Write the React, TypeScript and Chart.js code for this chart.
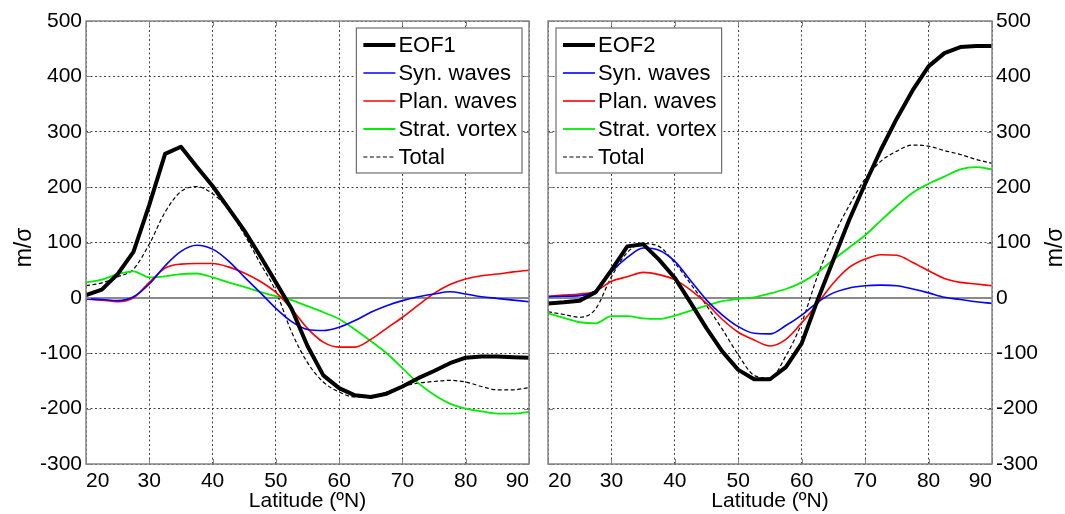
import React, { useEffect, useRef } from 'react';
import { Chart, registerables } from 'chart.js';

Chart.register(...registerables);

// ---------- data ----------
const latitudes = [20, 22.5, 25, 27.5, 30, 32.5, 35, 37.5, 40, 42.5, 45, 47.5, 50, 52.5, 55, 57.5, 60, 62.5, 65, 67.5, 70, 72.5, 75, 77.5, 80, 82.5, 85, 87.5, 90];

// Panel 1 (EOF1)
const eof1 = [5, 15, 43, 83, 168, 260, 273, 237, 202, 162, 122, 76, 28, -20, -87, -140, -163, -176, -179, -173, -160, -145, -132, -118, -108, -106, -106, -107, -108];
const syn1 = [-2, -3, -5, 2, 25, 58, 84, 95, 88, 67, 38, 10, -19, -43, -57, -59, -53, -41, -26, -14, -5, 2, 7, 11, 7, 2, -1, -4, -7];
const plan1 = [-2, -4, -7, 0, 28, 54, 61, 62, 62, 56, 45, 30, 10, -20, -55, -80, -89, -89, -75, -55, -35, -13, 8, 24, 34, 40, 43, 47, 50];
const strat1 = [28, 33, 43, 48, 37, 39, 43, 44, 37, 28, 20, 11, 3, -4, -15, -26, -38, -57, -78, -100, -127, -154, -175, -191, -200, -205, -209, -209, -206];
const total1 = [22, 27, 38, 52, 97, 155, 192, 201, 188, 160, 115, 63, 12, -62, -117, -152, -170, -179, -178, -170, -160, -154, -151, -149, -152, -160, -166, -166, -162];

// Panel 2 (EOF2)
const eof2 = [-10, -8, -5, 10, 50, 93, 97, 69, 36, -9, -55, -97, -130, -147, -147, -125, -82, -4, 69, 141, 206, 268, 324, 375, 418, 442, 453, 455, 455];
const syn2 = [2, 3, 4, 13, 47, 73, 90, 86, 66, 31, -4, -31, -52, -64, -65, -50, -31, -8, 9, 18, 22, 23, 22, 16, 9, 1, -3, -7, -10];
const plan2 = [3, 5, 7, 12, 30, 38, 46, 42, 33, 14, -10, -39, -62, -76, -87, -75, -45, -10, 27, 55, 70, 78, 77, 64, 49, 35, 28, 25, 22];
const strat2 = [-28, -36, -44, -46, -33, -33, -37, -38, -32, -23, -14, -6, -2, 1, 8, 16, 28, 46, 69, 91, 113, 140, 166, 190, 206, 219, 232, 236, 232];
const total2 = [-25, -30, -35, -20, 38, 82, 98, 93, 63, 25, -14, -57, -103, -140, -145, -105, -45, 40, 111, 167, 215, 247, 265, 276, 274, 266, 259, 250, 243];

const seriesLabels1 = ['EOF1', 'Syn. waves', 'Plan. waves', 'Strat. vortex', 'Total'];
const seriesLabels2 = ['EOF2', 'Syn. waves', 'Plan. waves', 'Strat. vortex', 'Total'];

const xMin = 20;
const xMax = 90;
const xStep = 10;
const yMin = -300;
const yMax = 500;
const yStep = 100;
const xTitle = 'Latitude (ºN)';
const yTitle = 'm/σ';

// ---------- styles ----------
const FONT = "Arial, 'Liberation Sans', sans-serif";
const FS = 21;
const LEG_FS = 22;
const TITLE_FS = 23;
const W = 1065;
const H = 514;
const FRAME = '#858585';
const GRID = '#444444';

const styles = [
  { color: '#000000', width: 4, dash: [] as number[], smooth: false },
  { color: '#0000ff', width: 1.6, dash: [] as number[], smooth: true },
  { color: '#ff0000', width: 1.6, dash: [] as number[], smooth: true },
  { color: '#00ee00', width: 1.8, dash: [] as number[], smooth: true },
  { color: '#000000', width: 1.2, dash: [4, 2.5], smooth: true },
];

function buildDatasets(labels: string[], series: number[][]) {
  return series.map((vals, i) => ({
    label: labels[i],
    data: vals.map((v, j) => ({ x: latitudes[j], y: v })),
    borderColor: styles[i].color,
    backgroundColor: styles[i].color,
    borderWidth: styles[i].width,
    borderDash: styles[i].dash,
    borderJoinStyle: 'round',
    pointRadius: 0,
    tension: 0,
    cubicInterpolationMode: styles[i].smooth ? 'monotone' : 'default',
    fill: false,
  }));
}

const framePlugin = {
  id: 'frameTicks',
  afterDatasetsDraw(chart: any) {
    const { ctx, chartArea: a, scales } = chart;
    ctx.save();
    ctx.strokeStyle = FRAME;
    ctx.lineWidth = 1;
    const tl = 5;
    ctx.beginPath();
    scales.x.ticks.forEach((t: any) => {
      const px = Math.round(scales.x.getPixelForValue(t.value)) + 0.5;
      ctx.moveTo(px, a.bottom);
      ctx.lineTo(px, a.bottom - tl);
      ctx.moveTo(px, a.top);
      ctx.lineTo(px, a.top + tl);
    });
    scales.y.ticks.forEach((t: any) => {
      const py = Math.round(scales.y.getPixelForValue(t.value)) + 0.5;
      ctx.moveTo(a.left, py);
      ctx.lineTo(a.left + tl, py);
      ctx.moveTo(a.right, py);
      ctx.lineTo(a.right - tl, py);
    });
    ctx.stroke();
    ctx.lineWidth = 1.5;
    ctx.strokeRect(a.left, a.top, a.right - a.left, a.bottom - a.top);
    ctx.restore();
  },
};

function makeLegendPlugin(side: 'left' | 'right') {
  return {
    id: 'boxLegend',
    afterDraw(chart: any) {
      const { ctx, chartArea: a } = chart;
      const dsets = chart.data.datasets;
      ctx.save();
      ctx.font = `${LEG_FS}px ${FONT}`;
      const textW = Math.max(...dsets.map((d: any) => ctx.measureText(d.label).width));
      const padL = 7, lineLen = 32, gap = 3, padR = 5, rowH = 28, firstRow = 17;
      const w = padL + lineLen + gap + textW + padR;
      const h = rowH * dsets.length + 5;
      const x0 = side === 'left' ? a.right - 7 - w : a.left + 8;
      const y0 = a.top + 7;
      ctx.fillStyle = '#ffffff';
      ctx.fillRect(x0, y0, w, h);
      ctx.strokeStyle = '#6e6e6e';
      ctx.lineWidth = 1.2;
      ctx.strokeRect(x0, y0, w, h);
      dsets.forEach((d: any, i: number) => {
        const cy = y0 + firstRow + i * rowH;
        ctx.beginPath();
        ctx.setLineDash(d.borderDash || []);
        ctx.strokeStyle = d.borderColor;
        ctx.lineWidth = d.borderWidth;
        ctx.moveTo(x0 + padL, cy);
        ctx.lineTo(x0 + padL + lineLen, cy);
        ctx.stroke();
        ctx.setLineDash([]);
        ctx.fillStyle = '#000';
        ctx.textAlign = 'left';
        ctx.textBaseline = 'middle';
        ctx.fillText(d.label, x0 + padL + lineLen + gap, cy + 1);
      });
      ctx.restore();
    },
  };
}

function makeYTitlePlugin(side: 'left' | 'right') {
  return {
    id: 'yTitle',
    afterDraw(chart: any) {
      const { ctx, chartArea: a, scales } = chart;
      ctx.save();
      ctx.font = `${TITLE_FS}px ${FONT}`;
      ctx.fillStyle = '#000';
      const bx = side === 'left' ? scales.y.left + 31 : scales.y.right - 3;
      ctx.translate(bx, (a.top + a.bottom) / 2 + 5);
      ctx.rotate(-Math.PI / 2);
      ctx.textAlign = 'center';
      ctx.textBaseline = 'alphabetic';
      ctx.fillText(yTitle, 0, 0);
      ctx.restore();
    },
  };
}

function gridColor(ctx: any) {
  return ctx.tick && ctx.tick.value === 0 ? '#8a8a8a' : GRID;
}

function makeOptions(side: 'left' | 'right') {
  const isLeft = side === 'left';
  return {
    responsive: false,
    animation: false as const,
    devicePixelRatio: 1,
    layout: {
      padding: isLeft
        ? { top: 21, right: W - 529, bottom: 0, left: 0 }
        : { top: 21, right: 0, bottom: 0, left: 548 },
    },
    plugins: {
      legend: { display: false },
      tooltip: { enabled: false },
    },
    scales: {
      x: {
        type: 'linear' as const,
        min: xMin,
        max: xMax,
        afterFit: (s: any) => { s.height = 50; },
        ticks: {
          stepSize: xStep,
          align: 'inner' as const,
          padding: 5,
          color: '#000',
          maxRotation: 0,
          font: { family: FONT, size: FS },
        },
        grid: { color: GRID, lineWidth: 1, drawTicks: false },
        border: { display: false, dash: [2, 2.5] },
        title: {
          display: true,
          text: xTitle,
          color: '#000',
          font: { family: FONT, size: FS, lineHeight: 1.2 },
          padding: { top: 0, bottom: 0 },
        },
      },
      y: {
        type: 'linear' as const,
        position: side,
        min: yMin,
        max: yMax,
        afterFit: (s: any) => { s.width = isLeft ? 86 : W - 992; },
        ticks: {
          stepSize: yStep,
          padding: 4,
          color: '#000',
          font: { family: FONT, size: FS },
        },
        grid: {
          color: gridColor,
          lineWidth: (ctx: any) => (ctx.tick && ctx.tick.value === 0 ? 2 : 1),
          drawTicks: false,
        },
        border: {
          display: false,
          dash: (ctx: any) => (ctx.tick && ctx.tick.value === 0 ? [] : [2, 2.5]),
        },
        title: { display: false },
      },
    },
  };
}

export default function App() {
  const leftRef = useRef<HTMLCanvasElement>(null);
  const rightRef = useRef<HTMLCanvasElement>(null);

  useEffect(() => {
    const c1 = new Chart(leftRef.current as HTMLCanvasElement, {
      type: 'line',
      data: { datasets: buildDatasets(seriesLabels1, [eof1, syn1, plan1, strat1, total1]) as any },
      options: makeOptions('left') as any,
      plugins: [framePlugin, makeLegendPlugin('left'), makeYTitlePlugin('left')],
    });
    const c2 = new Chart(rightRef.current as HTMLCanvasElement, {
      type: 'line',
      data: { datasets: buildDatasets(seriesLabels2, [eof2, syn2, plan2, strat2, total2]) as any },
      options: makeOptions('right') as any,
      plugins: [framePlugin, makeLegendPlugin('right'), makeYTitlePlugin('right')],
    });
    return () => {
      c1.destroy();
      c2.destroy();
    };
  }, []);

  const cs: React.CSSProperties = { position: 'absolute', left: 0, top: 0, width: W, height: H };
  return (
    <div style={{ position: 'fixed', left: 0, top: 0, width: W, height: H, background: '#fff' }}>
      <canvas ref={leftRef} width={W} height={H} style={cs} />
      <canvas ref={rightRef} width={W} height={H} style={cs} />
    </div>
  );
}
